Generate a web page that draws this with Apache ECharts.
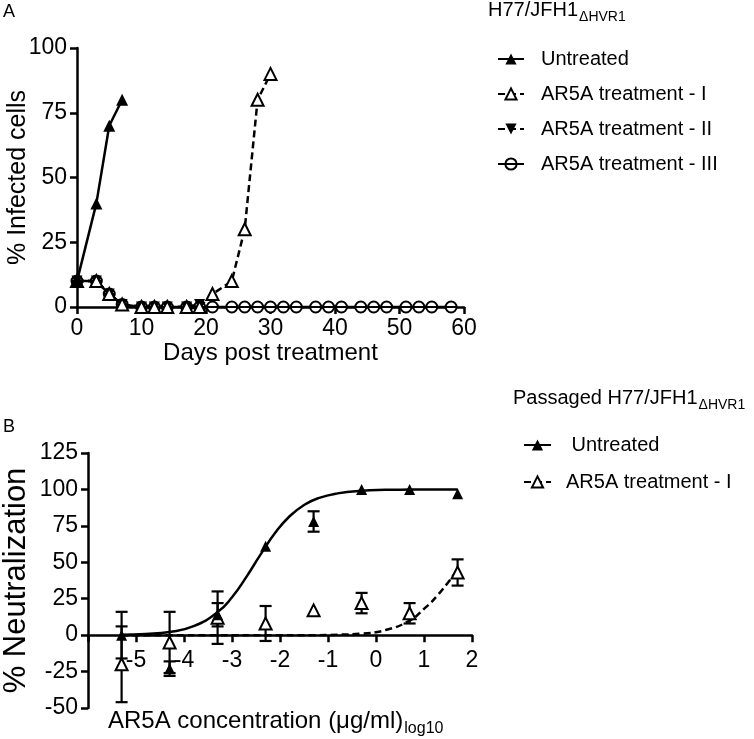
<!DOCTYPE html>
<html><head><meta charset="utf-8">
<script src="https://cdn.jsdelivr.net/npm/echarts@6/dist/echarts.min.js"></script>
<style>html,body{margin:0;padding:0;background:#fff}#c{width:754px;height:739px}</style>
</head><body><div id="c"></div>
<script>
// ---------- Panel A data ----------
const xTicksA = [0, 10, 20, 30, 40, 50, 60];
const yTicksA = [0, 25, 50, 75, 100];
const daysUntreated = [0, 3, 5, 7];
const infUntreated = [10, 40, 70, 80];
const daysT1 = [0, 3, 5, 7, 10, 12, 14, 17, 19, 21, 24, 26, 28, 30];
const infT1 = [10, 10, 5, 1, 0, 0, 0, 0, 0, 5, 10, 30, 80, 90];
const daysT2 = [0, 3, 5, 7, 10, 12, 14, 17, 19];
const infT2 = [10, 10, 5, 1, 0, 0, 0, 0, 1];
const daysT3 = [0, 3, 5, 7, 10, 12, 14, 17, 19, 21, 24, 26, 28, 30, 32, 34, 37, 39, 41, 44, 46, 48, 51, 53, 55, 58];
const infT3 = [10, 10, 5, 1, 0, 0, 0, 0, 0, 0, 0, 0, 0, 0, 0, 0, 0, 0, 0, 0, 0, 0, 0, 0, 0, 0];
const namesA = ['Untreated', 'AR5A treatment - I', 'AR5A treatment - II', 'AR5A treatment - III'];

// ---------- Panel B data ----------
const xTicksB = [-6, -5, -4, -3, -2, -1, 0, 1, 2];
const yTicksB = [-50, -25, 0, 25, 50, 75, 100, 125];
const logConc = [-5.3, -4.3, -3.3, -2.3, -1.3, -0.3, 0.7, 1.7];
const neutUntreated = [0, -23, 14, 61, 78, 100, 100, 97];
const errUntreated = [16, 5, 8, 0, 7, 0, 0, 0];
const neutTreated = [-20, -5, 12, 8, 17, 22, 15, 43];
const errTreated = [26, 21, 18, 12, 0, 7, 7, 9];
const fitUntreatedX = [-5.3, -4.8, -4.3, -3.8, -3.3, -3.0, -2.7, -2.4, -2.1, -1.8, -1.5, -1.2, -0.8, -0.3, 0.2, 0.7, 1.2, 1.7];
const fitUntreatedY = [0.3, 0.8, 2.2, 6.2, 15.8, 26, 40, 55.6, 70.2, 81.6, 89.3, 94, 97.3, 99.1, 99.7, 99.9, 100, 100];
const fitTreatedX = [-5.3, -4.3, -3.3, -2.3, -1.3, -0.8, -0.3, 0.2, 0.7, 1.0, 1.3, 1.7];
const fitTreatedY = [0, 0, 0, 0, 0, 0.3, 1, 3.5, 10, 18, 28, 45];
const namesB = [' Untreated', 'AR5A treatment - I '];

// ---------- styling ----------
const FONT = 'Liberation Sans, Arial, sans-serif';
const BLACK = '#000';
const LW = 2.5;
const DASH = [7, 4];
const circlePath = 'path://M0,6A6,6 0 1,0 12,6A6,6 0 1,0 0,6ZM0,6L12,6';
const gridA = { left: 77, top: 48, width: 387, height: 259, outerBoundsMode: 'none', containLabel: false };
const gridB = { left: 88, top: 453, width: 384, height: 255, outerBoundsMode: 'none', containLabel: false };

const zip = (xs, ys) => xs.map((x, i) => [x, ys[i]]);
const errData = (xs, ms, es) => xs.map((x, i) => [x, ms[i] - es[i], ms[i] + es[i]]).filter((d, i) => es[i] > 0);

const measureCtx = document.createElement('canvas').getContext('2d');
function textWidth(t, size) {
  measureCtx.font = size + 'px ' + FONT;
  return measureCtx.measureText(t).width;
}
// main text followed by a subscript
function subText(x, y, main, sub, size, subSize, drop) {
  const w = textWidth(main, size);
  return [
    { type: 'text', x: x, y: y, style: { text: main, fontSize: size, fontFamily: FONT, fill: BLACK, verticalAlign: 'middle', align: 'left' } },
    { type: 'text', x: x + w + 1, y: y + drop, style: { text: sub, fontSize: subSize, fontFamily: FONT, fill: BLACK, verticalAlign: 'middle', align: 'left' } }
  ];
}

function errRender(params, api) {
  const x = api.value(0), lo = api.value(1), hi = api.value(2);
  const pLo = api.coord([x, lo]), pHi = api.coord([x, hi]);
  const w = 6;
  const style = { stroke: BLACK, lineWidth: 2.2, fill: null };
  return {
    type: 'group', children: [
      { type: 'line', shape: { x1: pHi[0], y1: pHi[1], x2: pLo[0], y2: pLo[1] }, style },
      { type: 'line', shape: { x1: pHi[0] - w, y1: pHi[1], x2: pHi[0] + w, y2: pHi[1] }, style },
      { type: 'line', shape: { x1: pLo[0] - w, y1: pLo[1], x2: pLo[0] + w, y2: pLo[1] }, style }
    ]
  };
}

const axisCommon = {
  type: 'value',
  splitLine: { show: false },
  axisLine: { onZero: false, lineStyle: { color: BLACK, width: LW } },
  axisTick: { length: 7, lineStyle: { color: BLACK, width: LW } },
  axisLabel: { color: BLACK, fontSize: 23, fontFamily: FONT, margin: 10 },
  nameTextStyle: { color: BLACK, fontFamily: FONT },
  nameLocation: 'middle',
  nameMoveOverlap: false
};

const filledTri = { color: BLACK, opacity: 1 };
const openTri = { color: '#fff', borderColor: BLACK, borderWidth: 2, opacity: 1 };

// offset that puts panel B's x axis on its y = 0 line
const yMinB = yTicksB[0], yMaxB = yTicksB[yTicksB.length - 1];
const xAxisOffsetB = -((0 - yMinB) / (yMaxB - yMinB)) * gridB.height;

const option = {
  animation: false,
  backgroundColor: '#fff',
  textStyle: { fontFamily: FONT },
  grid: [gridA, gridB],
  xAxis: [
    Object.assign({}, axisCommon, {
      gridIndex: 0, min: xTicksA[0], max: xTicksA[xTicksA.length - 1], interval: xTicksA[1] - xTicksA[0],
      name: 'Days post treatment', nameGap: 34,
      nameTextStyle: { color: BLACK, fontFamily: FONT, fontSize: 24 }
    }),
    Object.assign({}, axisCommon, {
      gridIndex: 1, min: xTicksB[0], max: xTicksB[xTicksB.length - 1], interval: xTicksB[1] - xTicksB[0],
      offset: xAxisOffsetB,
      axisLabel: {
        color: BLACK, fontSize: 23, fontFamily: FONT, margin: 14,
        formatter: v => (v === xTicksB[0] ? '' : String(v))
      }
    })
  ],
  yAxis: [
    Object.assign({}, axisCommon, {
      gridIndex: 0, min: yTicksA[0], max: yTicksA[yTicksA.length - 1], interval: yTicksA[1] - yTicksA[0],
      name: '% Infected cells', nameGap: 46,
      nameTextStyle: { color: BLACK, fontFamily: FONT, fontSize: 25 }
    }),
    Object.assign({}, axisCommon, {
      gridIndex: 1, min: yMinB, max: yMaxB, interval: yTicksB[1] - yTicksB[0],
      name: '% Neutralization', nameGap: 56,
      nameTextStyle: { color: BLACK, fontFamily: FONT, fontSize: 31 }
    })
  ],
  legend: [
    {
      orient: 'vertical', left: 492, top: 44, itemWidth: 26, itemHeight: 14, itemGap: 15,
      selectedMode: false, data: namesA,
      textStyle: { color: BLACK, fontSize: 20, fontFamily: FONT, padding: [0, 0, 0, 12] }
    },
    {
      orient: 'vertical', left: 518, top: 430, itemWidth: 27, itemHeight: 14, itemGap: 17,
      selectedMode: false, data: namesB,
      textStyle: { color: BLACK, fontSize: 20, fontFamily: FONT, padding: [0, 0, 0, 10] }
    }
  ],
  graphic: [
    { type: 'text', left: 3, top: 3, style: { text: 'A', fontSize: 18, fontFamily: FONT, fill: BLACK } },
    { type: 'text', left: 3, top: 418, style: { text: 'B', fontSize: 18, fontFamily: FONT, fill: BLACK } }
  ]
    .concat(subText(488, 10, 'H77/JFH1', 'ΔHVR1', 20, 14, 7))
    .concat(subText(513, 398, 'Passaged H77/JFH1', 'ΔHVR1', 20, 14, 7))
    .concat(subText(108, 721, 'AR5A concentration (μg/ml)', 'log10', 24, 16, 8)),
  series: [
    // Panel A
    {
      name: namesA[3], type: 'line', xAxisIndex: 0, yAxisIndex: 0, data: zip(daysT3, infT3),
      symbol: circlePath, symbolSize: 11, itemStyle: { color: '#fff', borderColor: BLACK, borderWidth: 2 },
      lineStyle: { color: BLACK, width: LW }, z: 2
    },
    {
      name: namesA[2], type: 'line', xAxisIndex: 0, yAxisIndex: 0, data: zip(daysT2, infT2),
      symbol: 'triangle', symbolRotate: 180, symbolSize: 11, itemStyle: filledTri,
      lineStyle: { color: BLACK, width: LW, type: DASH }, z: 3
    },
    {
      name: namesA[1], type: 'line', xAxisIndex: 0, yAxisIndex: 0, data: zip(daysT1, infT1),
      symbol: 'triangle', symbolSize: 12, itemStyle: openTri,
      lineStyle: { color: BLACK, width: LW, type: DASH }, z: 4
    },
    {
      name: namesA[0], type: 'line', xAxisIndex: 0, yAxisIndex: 0, data: zip(daysUntreated, infUntreated),
      symbol: 'triangle', symbolSize: 12, itemStyle: filledTri,
      lineStyle: { color: BLACK, width: LW }, z: 5
    },
    // Panel B fitted curves (legend entries)
    {
      name: namesB[0], type: 'line', xAxisIndex: 1, yAxisIndex: 1, data: zip(fitUntreatedX, fitUntreatedY),
      smooth: true, showSymbol: false, symbol: 'triangle', symbolSize: 11, itemStyle: filledTri,
      lineStyle: { color: BLACK, width: LW }, z: 3
    },
    {
      name: namesB[1], type: 'line', xAxisIndex: 1, yAxisIndex: 1, data: zip(fitTreatedX, fitTreatedY),
      smooth: true, showSymbol: false, symbol: 'triangle', symbolSize: 11, itemStyle: openTri,
      lineStyle: { color: BLACK, width: LW, type: DASH }, z: 3
    },
    // Panel B error bars
    {
      name: 'errU', type: 'custom', xAxisIndex: 1, yAxisIndex: 1, renderItem: errRender,
      data: errData(logConc, neutUntreated, errUntreated), z: 4
    },
    {
      name: 'errT', type: 'custom', xAxisIndex: 1, yAxisIndex: 1, renderItem: errRender,
      data: errData(logConc, neutTreated, errTreated), z: 4
    },
    // Panel B points
    {
      name: 'ptsT', type: 'scatter', xAxisIndex: 1, yAxisIndex: 1, data: zip(logConc, neutTreated),
      symbol: 'triangle', symbolSize: 12, itemStyle: openTri, z: 5
    },
    {
      name: 'ptsU', type: 'scatter', xAxisIndex: 1, yAxisIndex: 1, data: zip(logConc, neutUntreated),
      symbol: 'triangle', symbolSize: 11, itemStyle: filledTri, z: 6
    }
  ]
};

const chart = echarts.init(document.getElementById('c'), null, { renderer: 'canvas' });
chart.setOption(option);
</script>
</body></html>
